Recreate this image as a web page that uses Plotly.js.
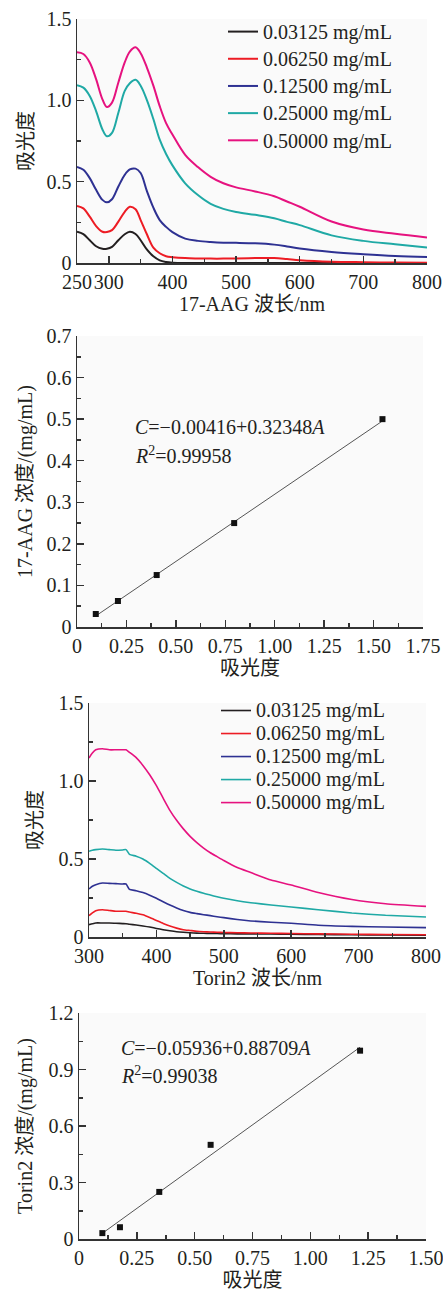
<!DOCTYPE html>
<html>
<head>
<meta charset="utf-8">
<script src="https://cdn.plot.ly/plotly-3.0.1.min.js"></script>
<style>html,body{margin:0;padding:0;background:#fff;}#chart{width:443px;height:1292px;}</style>
</head>
<body>
<div id="chart"></div>
<script>
// ---------- DATA ----------
const concLabels = ['0.03125 mg/mL','0.06250 mg/mL','0.12500 mg/mL','0.25000 mg/mL','0.50000 mg/mL'];
const seriesColors = ['#231f20','#ed1c24','#2e3192','#1fa9a5','#e6127f'];

// 17-AAG absorption spectra
const aagWave  = [250,260,270,280,290,297,305,315,325,333,342,350,360,370,380,390,400,420,440,460,480,500,530,560,580,600,650,700,750,800];
const aag03125 = [0.192,0.177,0.140,0.103,0.087,0.087,0.099,0.140,0.177,0.192,0.178,0.140,0.082,0.041,0.016,0.006,0.002,0,0,0,0,0,0,0,0,0,0,0,0,0];
const aag06250 = [0.351,0.336,0.285,0.227,0.192,0.190,0.202,0.254,0.315,0.346,0.330,0.264,0.175,0.095,0.060,0.042,0.036,0.030,0.028,0.027,0.027,0.028,0.030,0.030,0.024,0.017,0.008,0.005,0.003,0.002];
const aag12500 = [0.590,0.573,0.522,0.450,0.388,0.373,0.392,0.470,0.542,0.575,0.580,0.553,0.440,0.340,0.264,0.222,0.190,0.150,0.136,0.129,0.125,0.124,0.121,0.113,0.102,0.089,0.068,0.054,0.043,0.037];
const aag25000 = [1.093,1.078,1.027,0.934,0.821,0.779,0.800,0.924,1.058,1.105,1.126,1.090,1.000,0.885,0.758,0.670,0.600,0.490,0.418,0.364,0.333,0.314,0.296,0.275,0.253,0.233,0.170,0.136,0.115,0.095];
const aag50000 = [1.295,1.285,1.233,1.130,1.006,0.959,0.986,1.110,1.233,1.300,1.326,1.290,1.200,1.090,0.964,0.860,0.790,0.665,0.590,0.530,0.490,0.465,0.440,0.410,0.378,0.346,0.255,0.206,0.180,0.157];

// 17-AAG standard curve
const aagAbs  = [0.095,0.207,0.403,0.795,1.545];
const aagConc = [0.03125,0.0625,0.125,0.25,0.5];
const aagIntercept = -0.00416, aagSlope = 0.32348, aagR2 = '0.99958';

// Torin2 absorption spectra
const torWave  = [300,305,310,320,330,340,350,355,360,370,380,390,400,410,420,430,440,450,460,470,480,490,500,520,540,570,600,640,690,740,800];
const tor03125 = [0.079,0.085,0.090,0.090,0.090,0.088,0.086,0.085,0.082,0.077,0.071,0.064,0.055,0.047,0.040,0.034,0.030,0.027,0.025,0.024,0.023,0.022,0.021,0.020,0.020,0.019,0.018,0.016,0.014,0.013,0.012];
const tor06250 = [0.137,0.155,0.169,0.175,0.170,0.165,0.165,0.165,0.160,0.152,0.142,0.125,0.106,0.087,0.070,0.057,0.047,0.042,0.037,0.034,0.032,0.030,0.029,0.027,0.026,0.024,0.022,0.020,0.018,0.016,0.014];
const tor12500 = [0.308,0.325,0.335,0.346,0.344,0.342,0.340,0.340,0.305,0.297,0.285,0.268,0.248,0.226,0.205,0.186,0.170,0.158,0.150,0.143,0.137,0.130,0.124,0.112,0.103,0.095,0.088,0.075,0.068,0.064,0.060];
const tor25000 = [0.549,0.556,0.560,0.564,0.560,0.556,0.558,0.560,0.530,0.518,0.500,0.472,0.440,0.408,0.376,0.350,0.327,0.308,0.293,0.280,0.269,0.258,0.248,0.232,0.220,0.205,0.192,0.175,0.154,0.139,0.128];
const tor50000 = [1.147,1.179,1.200,1.207,1.200,1.200,1.200,1.200,1.184,1.150,1.100,1.040,0.970,0.890,0.812,0.748,0.693,0.645,0.605,0.570,0.540,0.515,0.490,0.445,0.413,0.365,0.333,0.285,0.240,0.213,0.196];

// Torin2 standard curve
const torAbs  = [0.101,0.177,0.347,0.569,1.215];
const torConc = [0.03125,0.0625,0.25,0.5,1.0];
const torIntercept = -0.05936, torSlope = 0.88709, torR2 = '0.99038';

// Tick labels
const specYVals = [0,0.5,1.0,1.5], specYText = ['0','0.5','1.0','1.5'];
const aagXVals = [250,300,400,500,600,700,800];
const torXVals = [300,400,500,600,700,800];
const std1XVals = [0,0.25,0.5,0.75,1.0,1.25,1.5,1.75], std1XText = ['0','0.25','0.50','0.75','1.00','1.25','1.50','1.75'];
const std1YVals = [0,0.1,0.2,0.3,0.4,0.5,0.6,0.7], std1YText = ['0','0.1','0.2','0.3','0.4','0.5','0.6','0.7'];
const std2XVals = [0,0.25,0.5,0.75,1.0,1.25,1.5], std2XText = ['0','0.25','0.50','0.75','1.00','1.25','1.50'];
const std2YVals = [0,0.3,0.6,0.9,1.2], std2YText = ['0','0.3','0.6','0.9','1.2'];

// ---------- BUILD ----------
const W = 443, H = 1292;
const dx = (a,b) => [a/W, b/W];
const dy = (top,bottom) => [1-bottom/H, 1-top/H];
const FONT = 'Liberation Serif, "Times New Roman", "Noto Sans CJK SC", serif';
const ink = '#231f20';
const legName = s => '<span style="font-size:20px">' + s + '</span>';

const aagSeries = [aag03125,aag06250,aag12500,aag25000,aag50000];
const torSeries = [tor03125,tor06250,tor12500,tor25000,tor50000];

const traces = [];
aagSeries.forEach((ys,i)=>traces.push({
  type:'scatter', mode:'lines', x:aagWave, y:ys, name:legName(concLabels[i]),
  xaxis:'x', yaxis:'y', legend:'legend',
  line:{color:seriesColors[i], width:2, shape:'spline', smoothing:1}
}));
function fitLine(absArr, b0, b1, xa, ya){
  const lo = Math.min(...absArr), hi = Math.max(...absArr);
  return {type:'scatter', mode:'lines', x:[lo,hi], y:[b0+b1*lo, b0+b1*hi], xaxis:xa, yaxis:ya,
    showlegend:false, line:{color:'#555', width:1}};
}
traces.push(fitLine(aagAbs,aagIntercept,aagSlope,'x2','y2'));
traces.push({type:'scatter', mode:'markers', x:aagAbs, y:aagConc, xaxis:'x2', yaxis:'y2', showlegend:false,
  marker:{symbol:'square', size:6, color:'#111'}});
torSeries.forEach((ys,i)=>traces.push({
  type:'scatter', mode:'lines', x:torWave, y:ys, name:legName(concLabels[i]),
  xaxis:'x3', yaxis:'y3', legend:'legend2',
  line:{color:seriesColors[i], width:1.6, shape:'spline', smoothing:0.5}
}));
traces.push(fitLine(torAbs,torIntercept,torSlope,'x4','y4'));
traces.push({type:'scatter', mode:'markers', x:torAbs, y:torConc, xaxis:'x4', yaxis:'y4', showlegend:false,
  marker:{symbol:'square', size:6, color:'#111'}});

const base = {
  showline:true, linecolor:'#333', linewidth:1.5, ticks:'inside', ticklen:7, tickwidth:1.5, tickcolor:'#333',
  showgrid:false, zeroline:false, mirror:false, fixedrange:true, automargin:false,
  tickangle:0, ticklabeloverflow:'allow',
  tickfont:{family:FONT, size:20, color:ink}
};
const titleFont = {family:FONT, size:20, color:ink};
function ax(extra){ return Object.assign({}, base, extra); }
function minor(tick0, dt){ return {ticks:'inside', ticklen:4, tickwidth:1.5, tickcolor:'#333', tick0:tick0, dtick:dt}; }

const fmt = v => (v<0?'−':'') + Math.abs(v).toFixed(5);
const eq1 = '<i>C</i>=' + fmt(aagIntercept) + '+' + aagSlope.toFixed(5) + '<i>A</i>';
const eq2 = '<i>C</i>=' + fmt(torIntercept) + '+' + torSlope.toFixed(5) + '<i>A</i>';

const layout = {
  width:W, height:H, margin:{l:0,r:0,t:0,b:0},
  paper_bgcolor:'#ffffff', plot_bgcolor:'#fafafa',
  font:{family:FONT, size:20, color:ink},
  showlegend:true,
  legend:{x:223/W, y:1-13/H, xanchor:'left', yanchor:'top', bgcolor:'rgba(0,0,0,0)',
    font:{family:FONT, size:18.6, color:ink}, tracegroupgap:0},
  legend2:{x:216/W, y:1-694/H, xanchor:'left', yanchor:'top', bgcolor:'rgba(0,0,0,0)',
    font:{family:FONT, size:15.4, color:ink}, tracegroupgap:0},
  xaxis: ax({domain:dx(77,427), anchor:'y', range:[250,800], tickmode:'array', tickvals:aagXVals, ticktext:aagXVals.map(String),
    minor:minor(250,50), title:{text:'17-AAG 波长/nm', font:titleFont, standoff:4}}),
  yaxis: ax({domain:dy(19,263), anchor:'x', range:[0,1.5], tickmode:'array', tickvals:specYVals, ticktext:specYText,
    minor:minor(0,0.25), title:{text:'吸光度', font:titleFont, standoff:7}}),
  xaxis2: ax({domain:dx(77,423), anchor:'y2', range:[0,1.75], tickmode:'array', tickvals:std1XVals, ticktext:std1XText,
    minor:minor(0,0.125), title:{text:'吸光度', font:titleFont, standoff:4}}),
  yaxis2: ax({domain:dy(336,627), anchor:'x2', range:[0,0.7], tickmode:'array', tickvals:std1YVals, ticktext:std1YText,
    minor:minor(0,0.05), title:{text:'17-AAG 浓度/(mg/mL)', font:titleFont, standoff:8}}),
  xaxis3: ax({domain:dx(89,426), anchor:'y3', range:[300,800], tickmode:'array', tickvals:torXVals, ticktext:torXVals.map(String),
    minor:minor(300,50), title:{text:'Torin2 波长/nm', font:titleFont, standoff:4}}),
  yaxis3: ax({domain:dy(703,937), anchor:'x3', range:[0,1.5], tickmode:'array', tickvals:specYVals, ticktext:specYText,
    minor:minor(0,0.25), title:{text:'吸光度', font:titleFont, standoff:10}}),
  xaxis4: ax({domain:dx(79,426), anchor:'y4', range:[0,1.5], tickmode:'array', tickvals:std2XVals, ticktext:std2XText,
    minor:minor(0,0.125), title:{text:'吸光度', font:titleFont, standoff:5}}),
  yaxis4: ax({domain:dy(1013,1239), anchor:'x4', range:[0,1.2], tickmode:'array', tickvals:std2YVals, ticktext:std2YText,
    minor:minor(0,0.15), title:{text:'Torin2 浓度/(mg/mL)', font:titleFont, standoff:10}}),
  annotations:[
    {xref:'paper', yref:'paper', x:133/W, y:1-427/H, xanchor:'left', yanchor:'middle', showarrow:false,
      text:eq1, font:{family:FONT, size:20, color:ink}},
    {xref:'paper', yref:'paper', x:133/W, y:1-455/H, xanchor:'left', yanchor:'middle', showarrow:false,
      text:'<i>R</i><sup>2</sup>=' + aagR2, font:{family:FONT, size:20, color:ink}},
    {xref:'paper', yref:'paper', x:119/W, y:1-1048/H, xanchor:'left', yanchor:'middle', showarrow:false,
      text:eq2, font:{family:FONT, size:20, color:ink}},
    {xref:'paper', yref:'paper', x:119/W, y:1-1075/H, xanchor:'left', yanchor:'middle', showarrow:false,
      text:'<i>R</i><sup>2</sup>=' + torR2, font:{family:FONT, size:20, color:ink}}
  ]
};

Plotly.newPlot('chart', traces, layout, {displayModeBar:false, staticPlot:true});
</script>
</body>
</html>
